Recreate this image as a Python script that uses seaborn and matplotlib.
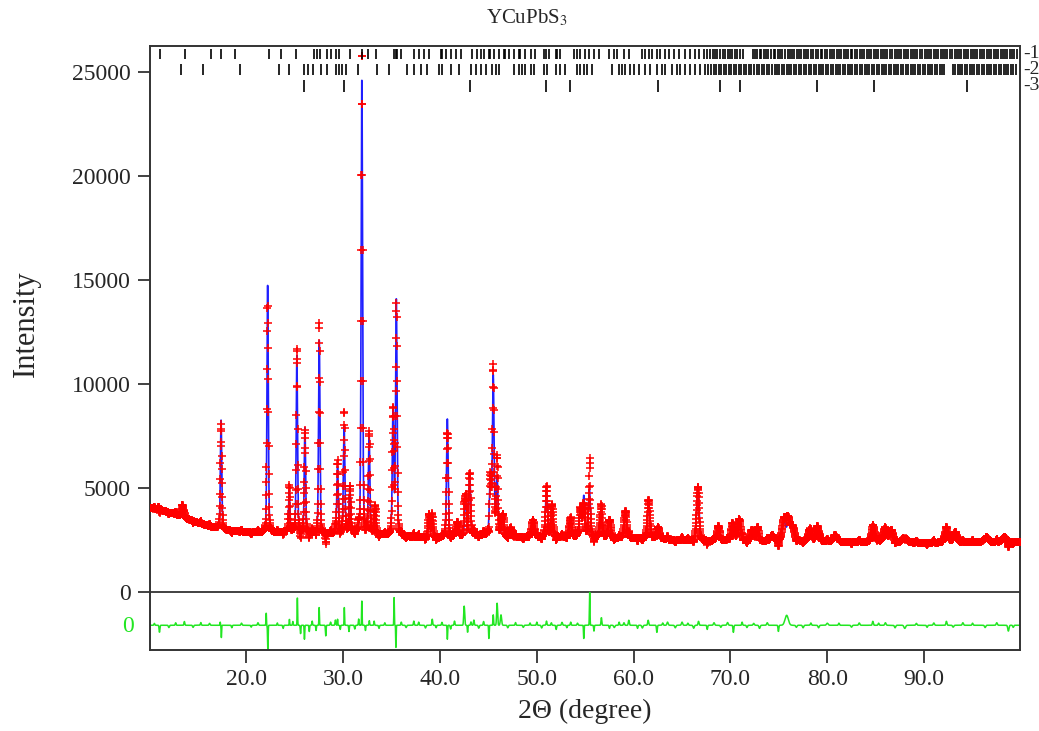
#Tratamiento de datos
import numpy as np
import pandas as pd
#--------------

#Visualización
import matplotlib
matplotlib.use("Agg")
import matplotlib.pyplot as plt
import matplotlib.transforms as mtransforms
from matplotlib.ticker import FormatStrFormatter, FixedLocator
import seaborn as sns

# Fondo (2theta, intensidad)
fondo_pos = [10.0, 11.0, 12.5, 13.5, 15.0, 16.5, 18.0, 20.0, 21.5, 23.0, 24.0, 28.2, 31.0,
             34.0, 36.5, 39.9, 42.0, 44.0, 46.8, 49.0, 53.0, 58.0, 61.0, 64.0, 68.0, 72.0,
             76.0, 80.0, 85.0, 90.0, 95.0, 100.0]
fondo_int = [4050, 3950, 3780, 3580, 3330, 3120, 2960, 2870, 2830, 2850, 2880, 2760, 2850,
             2720, 2650, 2580, 2650, 2720, 2630, 2620, 2640, 2580, 2580, 2500, 2450, 2430,
             2450, 2410, 2400, 2360, 2380, 2420]

# Picos del perfil calculado: posición, altura sobre el fondo, anchura (FWHM)
pico_pos = [11.0, 13.4, 17.39, 22.2, 24.43, 25.22, 26.05, 27.53, 29.42, 30.1, 30.69, 31.93,
            32.68, 33.3, 35.15, 35.49, 38.87, 39.2, 40.76, 41.8, 42.65, 43.06, 45.2, 45.5,
            45.9, 46.5, 47.3, 49.6, 51.0, 51.57, 53.47, 54.5, 54.85, 55.43, 56.63, 57.5,
            59.15, 61.55, 62.5, 66.63, 68.76, 70.24, 70.9, 72.2, 72.8, 74.3, 75.5, 75.98,
            76.4, 78.2, 79.0, 80.8, 84.74, 85.95, 86.6, 88.0, 92.3, 93.2, 96.4, 98.3]
pico_alt = [230, 600, 5300, 11900, 2000, 8500, 5100, 9400, 3200, 5100, 2200, 22000,
            4700, 1350, 6000, 11400, 1100, 850, 5700, 700, 1950, 3000, 2800, 7600,
            2700, 1050, 450, 850, 2250, 1500, 800, 1350, 1950, 2300, 1300, 1000,
            1300, 1700, 600, 2500, 700, 930, 1040, 540, 670, 280, 950, 750,
            700, 560, 750, 320, 660, 580, 590, 290, 570, 510, 290, 240]
pico_fwhm = [0.2, 0.25, 0.16, 0.16, 0.16, 0.16, 0.16, 0.17, 0.18, 0.18, 0.18, 0.17,
             0.18, 0.2, 0.18, 0.18, 0.22, 0.22, 0.2, 0.25, 0.22, 0.22, 0.22, 0.2,
             0.22, 0.25, 0.3, 0.3, 0.25, 0.25, 0.3, 0.25, 0.25, 0.25, 0.28, 0.3,
             0.3, 0.3, 0.35, 0.3, 0.35, 0.35, 0.35, 0.35, 0.35, 0.4, 0.4, 0.4,
             0.45, 0.4, 0.4, 0.45, 0.4, 0.45, 0.45, 0.5, 0.45, 0.45, 0.5, 0.5]

# Diferencia observado - calculado: posición, amplitud, anchura
dif_pos = [11.03, 13.6, 17.3, 17.42, 22.05, 22.22, 24.45, 25.27, 25.6, 26.0, 26.5, 27.52,
           28.2, 29.2, 29.42, 30.12, 30.6, 31.6, 31.93, 32.3, 33.2, 35.26, 35.45, 36.0,
           37.3, 39.2, 40.76, 41.5, 42.5, 42.85, 43.5, 45.05, 45.5, 45.9, 46.3, 50.0,
           51.0, 52.0, 53.5, 54.85, 55.46, 55.9, 56.67, 57.5, 58.5, 59.5, 60.4, 61.5,
           62.4, 63.5, 65.0, 66.7, 67.6, 70.3, 71.2, 73.0, 74.95, 75.8, 77.5, 80.0,
           84.7, 86.0, 88.0, 92.3, 94.0, 98.7,
           10.5, 12.0, 12.7, 14.5, 15.3, 16.2, 18.5, 19.5, 20.5, 21.2, 23.2, 23.8,
           24.8, 26.8, 27.2, 28.7, 29.7, 31.2, 32.7, 33.7, 34.3, 36.5, 37.8, 38.5,
           39.6, 40.2, 41.1, 43.2, 44.0, 44.5, 47.0, 47.8, 48.6, 49.3, 50.5, 51.5,
           52.6, 53.1, 54.2, 58.0, 59.0, 60.9, 63.0, 64.3, 65.6, 66.2, 68.3, 69.0,
           69.7, 71.7, 72.4, 73.8, 76.8, 78.3, 79.1, 81.2, 82.5, 83.3, 85.3, 87.0,
           89.2, 90.3, 91.0, 93.0, 95.0, 96.3, 97.5, 99.2]
dif_amp = [-340, 180, 150, -590, 620, -1240, 300, 1410, -400, -670, -300, 850,
           -510, 250, 290, 850, -300, 300, 1250, -250, 200, 1330, -1150, 150,
           200, 290, -670, 200, 920, -350, 250, -670, 500, 1060, 500, 150,
           200, -200, 150, -670, 1580, -280, 370, -150, 150, 240, -150, 240,
           -340, 150, 150, 190, -200, -340, 150, -150, -300, 480, -120, 100,
           190, 120, -150, 190, 120, -280,
           90, -110, 120, -100, 130, 90, -120, 100, -90, 120, 110, -150,
           180, 200, -250, 150, -200, -180, 220, -150, 120, -110, 150, -130,
           -120, 140, -180, 160, -140, 180, -120, 130, -100, 110, -130, 120,
           140, -120, 100, -110, 120, -130, 110, -120, 100, -140, 120, -100,
           130, -110, 90, 120, -100, 110, -120, 100, -90, 110, 100, -120,
           90, -100, 110, -90, 100, -110, 120, -100]
dif_ancho = [0.1, 0.1, 0.06, 0.06, 0.06, 0.07, 0.06, 0.06, 0.08, 0.07, 0.08, 0.06,
             0.08, 0.1, 0.06, 0.06, 0.08, 0.08, 0.06, 0.08, 0.08, 0.06, 0.06, 0.1,
             0.1, 0.1, 0.07, 0.1, 0.12, 0.07, 0.1, 0.07, 0.08, 0.12, 0.15, 0.1,
             0.1, 0.1, 0.1, 0.07, 0.07, 0.08, 0.1, 0.1, 0.1, 0.12, 0.1, 0.12,
             0.1, 0.15, 0.15, 0.12, 0.1, 0.1, 0.1, 0.15, 0.1, 0.4, 0.15, 0.2,
             0.12, 0.15, 0.2, 0.12, 0.15, 0.15,
             0.1, 0.12, 0.1, 0.12, 0.1, 0.12, 0.1, 0.12, 0.1, 0.12, 0.08, 0.1,
             0.08, 0.08, 0.08, 0.1, 0.08, 0.1, 0.08, 0.1, 0.1, 0.12, 0.1, 0.12,
             0.1, 0.1, 0.1, 0.1, 0.12, 0.1, 0.12, 0.1, 0.12, 0.1, 0.12, 0.1,
             0.12, 0.1, 0.12, 0.15, 0.12, 0.15, 0.12, 0.15, 0.12, 0.15, 0.15, 0.12,
             0.15, 0.12, 0.15, 0.15, 0.15, 0.12, 0.15, 0.12, 0.15, 0.15, 0.12, 0.15,
             0.15, 0.12, 0.15, 0.15, 0.12, 0.15, 0.15, 0.12]

# Posiciones de Bragg de las tres fases
fase1 = [11.1, 13.7, 16.3, 17.4, 18.8, 22.3, 23.6, 25.1, 27.0, 27.3, 27.56, 28.38, 28.73,
         29.25, 29.59, 30.7, 31.9, 32.6, 33.4, 35.26, 35.45, 35.6, 35.95, 37.32, 37.84,
         38.35, 38.87, 40.07, 40.25, 40.59, 41.1, 41.62, 42.13, 43.33, 43.85, 44.2, 44.54,
         45.05, 45.2, 45.57, 46.08, 46.6, 46.75, 47.11, 47.63, 48.14, 48.3, 48.83, 49.35,
         49.86, 50.72, 50.9, 51.24, 51.93, 52.1, 52.44, 53.81, 54.16, 54.5, 55.02, 55.36,
         55.88, 56.39, 57.42, 57.94, 58.28, 58.97, 59.48, 60.86, 61.2, 61.55, 61.89, 62.4,
         62.75, 63.27, 63.6, 64.12, 64.64, 65.33, 65.84, 66.36, 66.7, 67.22, 67.56,
         67.9, 68.15, 68.4, 68.6, 68.95, 69.2, 69.4, 69.7, 69.95, 70.2, 70.45, 70.7, 71.0,
         71.25, 72.3, 72.55, 72.75, 73.0, 73.2, 73.5, 73.7, 73.9, 74.2, 74.45, 74.6, 74.9,
         75.15, 75.35, 75.6, 75.9, 76.1, 76.4, 76.6, 76.85, 77.1, 77.3, 77.6, 77.8, 78.05,
         78.3, 78.55, 78.8, 79.0, 79.3, 79.5, 79.75, 80.0, 80.25, 80.5, 80.7, 80.95, 81.2,
         81.45, 81.7, 81.9, 82.15, 82.4, 82.6, 82.9, 83.1, 83.35, 83.6, 83.8, 84.05, 84.3,
         84.55, 84.8, 85.0, 85.25, 85.5, 85.75, 86.0, 86.2, 86.45, 86.7, 86.95, 87.2, 87.4,
         87.65, 87.9, 88.15, 88.35, 88.6, 88.85, 89.1, 89.3, 89.55, 89.8, 90.05, 90.25,
         90.5, 90.75, 91.0, 91.2, 91.45, 91.7, 91.95, 92.2, 92.4, 92.65, 92.9, 93.15, 93.4,
         93.6, 93.85, 94.1, 94.3, 94.55, 94.8, 95.05, 95.3, 95.5, 95.75, 96.0, 96.2, 96.45,
         96.7, 96.95, 97.2, 97.4, 97.65, 97.9, 98.1, 98.35, 98.6, 98.85, 99.1, 99.3, 99.55]
fase2 = [13.27, 15.5, 19.38, 23.4, 24.43, 25.98, 26.4, 26.84, 27.7, 28.38, 29.24, 29.59,
         29.93, 30.27, 31.48, 33.54, 34.74, 36.63, 37.32, 38.01, 38.69, 39.9, 40.24, 41.1,
         41.96, 43.16, 43.68, 44.2, 44.71, 45.4, 45.74, 46.08, 47.63, 48.14, 48.49, 48.83,
         49.35, 49.69, 50.72, 51.06, 51.93, 52.44, 52.96, 54.16, 54.5, 54.85, 55.19, 55.7,
         57.77, 58.45, 58.8, 59.14, 59.66, 60.0, 60.52, 61.2, 61.72, 62.4, 62.92, 63.27,
         63.95, 64.47, 64.81, 65.33, 65.84, 66.36, 66.88, 67.39,
         67.7, 67.95, 68.25, 68.5, 68.8, 69.05, 69.3, 69.55, 69.8, 70.05, 70.35, 70.6,
         70.85, 71.1, 71.4, 71.65, 71.9, 72.15, 72.4, 72.7, 72.95, 73.25, 73.5, 73.75, 74.0,
         74.3, 74.55, 74.8, 75.05, 75.3, 75.55, 75.8, 76.05, 76.3, 76.55, 76.8, 77.05, 77.3,
         77.55, 77.8, 78.1, 78.35, 78.6, 78.85, 79.1, 79.35, 79.6, 79.85, 80.1, 80.35, 80.6,
         80.85, 81.1, 81.35, 81.6, 81.85, 82.1, 82.35, 82.6, 82.85, 83.1, 83.35, 83.6, 83.85,
         84.1, 84.35, 84.6, 84.85, 85.1, 85.35, 85.6, 85.85, 86.1, 86.35, 86.6, 86.85, 87.1,
         87.35, 87.6, 87.85, 88.1, 88.35, 88.6, 88.85, 89.1, 89.35, 89.6, 89.85, 90.1, 90.35,
         90.6, 90.85, 91.1, 91.35, 91.6, 91.85, 92.1, 92.95, 93.2, 93.45, 93.7, 93.95, 94.2,
         94.45, 94.7, 94.95, 95.2, 95.45, 95.7, 95.95, 96.2, 96.45, 96.7, 96.95, 97.2, 97.45,
         97.7, 97.95, 98.2, 98.45, 98.7, 98.95, 99.2, 99.45]
fase3 = [25.96, 30.07, 43.05, 50.99, 53.4, 62.55, 68.9, 70.95, 78.95, 84.8, 94.4]

ticks_x = [20, 30, 40, 50, 60, 70, 80, 90]
ticks_y = [0, 5000, 10000, 15000, 20000, 25000]
desplaz_dif = -1600


def pseudo_voigt(x, x0, h, w, eta=0.3):
    u = ((x - x0) / w) ** 2
    return h * (eta / (1 + 4 * u) + (1 - eta) * np.exp(-4 * np.log(2) * u))


# Perfil
two_theta = np.arange(10.0, 100.0, 0.02)
calc = np.interp(two_theta, fondo_pos, fondo_int)
for p, h, w in zip(pico_pos, pico_alt, pico_fwhm):
    calc = calc + pseudo_voigt(two_theta, p, h, w)

dif = np.zeros_like(two_theta)
for p, a, w in zip(dif_pos, dif_amp, dif_ancho):
    dif = dif + a * np.exp(-4 * np.log(2) * ((two_theta - p) / w) ** 2)

df = pd.DataFrame({'tt': two_theta, 'calc': calc, 'obs': calc + dif,
                   'dif': dif + desplaz_dif})

sns.set_style("ticks")
plt.rcParams['font.family'] = ['Liberation Serif', 'DejaVu Serif']
plt.rcParams['mathtext.fontset'] = 'stix'

fig = plt.figure(figsize=(10.39, 7.31), dpi=100)
ax = fig.add_axes([150 / 1039, 81 / 731, 870 / 1039, 604 / 731])

sns.lineplot(data=df, x='tt', y='calc', ax=ax, color='#1f1fff', lw=1.2,
             estimator=None, sort=False, zorder=2)
sns.scatterplot(data=df, x='tt', y='obs', ax=ax, marker='+', color='#ff0000',
                s=38, linewidth=1.1, zorder=3)
sns.lineplot(data=df, x='tt', y='dif', ax=ax, color='#22e622', lw=1.1,
             estimator=None, sort=False, zorder=2)

ax.axhline(0, color='#333333', lw=1.3, zorder=1)

# Marcas de Bragg
ax.vlines(fase1, 25660, 26140, color='black', lw=1.2, zorder=4)
ax.vlines(fase2, 24860, 25420, color='black', lw=1.2, zorder=4)
ax.vlines(fase3, 24050, 24620, color='black', lw=1.2, zorder=4)
for etiqueta, yy in zip(['-1', '-2', '-3'], [53, 69, 86]):
    fig.text(1023 / 1039, 1 - yy / 731, etiqueta, fontsize=14, va='center', ha='left')

ax.set_xlim(10.05, 99.9)
ax.set_ylim(-2790, 26265)
ax.xaxis.set_major_locator(FixedLocator(ticks_x))
ax.xaxis.set_major_formatter(FormatStrFormatter('%.1f'))
ax.yaxis.set_major_locator(FixedLocator(ticks_y))
ax.tick_params(axis='both', direction='out', length=9, width=1.3, color='#333333',
               labelsize=17, pad=5)

for lado in ax.spines.values():
    lado.set_color('#333333')
    lado.set_linewidth(1.4)

trans = mtransforms.blended_transform_factory(ax.transAxes, ax.transData)
ax.text(-0.019, desplaz_dif - 80, '0', transform=trans, ha='right', va='center',
        fontsize=17, color='#22e622')

ax.set_xlabel('2Θ (degree)', fontsize=20, labelpad=6)
ax.set_ylabel('Intensity', fontsize=22)
ax.yaxis.set_label_coords(-0.125, 0.54)
fig.text(527 / 1039, 1 - 18 / 731, 'YCuPbS$_3$', fontsize=15, ha='center', va='center')

fig.savefig('out.png', dpi=100)
